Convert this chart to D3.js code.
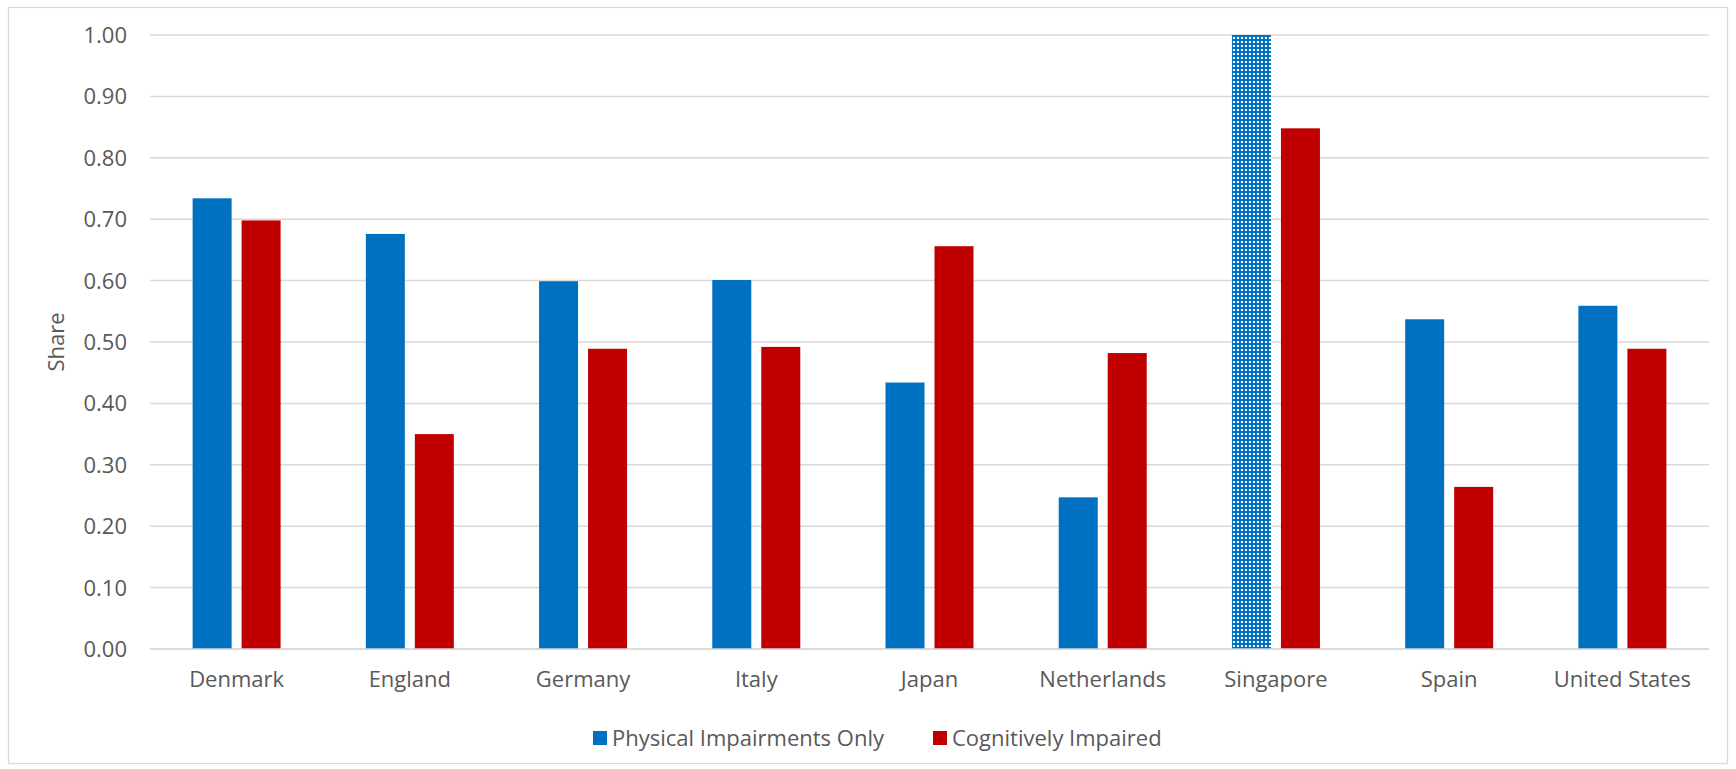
<!DOCTYPE html>
<html>
<head>
<meta charset="utf-8">
<script src="https://cdn.jsdelivr.net/npm/d3@7"></script>
<style>
  html, body { margin: 0; padding: 0; background: #ffffff; }
  svg { display: block; font-family: "Open Sans", "Liberation Sans", sans-serif; }
</style>
</head>
<body>
<svg id="chart" width="1736" height="769"></svg>
<script>
// Share of people with care needs, by country and impairment group
const countries = ["Denmark", "England", "Germany", "Italy", "Japan", "Netherlands", "Singapore", "Spain", "United States"];
const physicalOnly = [0.734, 0.676, 0.599, 0.601, 0.434, 0.247, 1.00, 0.537, 0.559];
const cognitive    = [0.698, 0.350, 0.489, 0.492, 0.656, 0.482, 0.848, 0.264, 0.489];
const seriesNames  = ["Physical Impairments Only", "Cognitively Impaired"];
const seriesColors = ["#0070C0", "#C00000"];
const yTicks = [0, 0.1, 0.2, 0.3, 0.4, 0.5, 0.6, 0.7, 0.8, 0.9, 1.0];
const patternedCountry = "Singapore";  // physical-only bar drawn with a dotted fill

const svg = d3.select("#chart");
const plot = { left: 150, right: 1709, top: 35, bottom: 649 };
const textColor = "#595959";
const gridColor = "#d9d9d9";
const fontSize = 22;

// Outer chart frame
svg.append("rect")
  .attr("x", 8.5).attr("y", 7.5)
  .attr("width", 1719).attr("height", 756)
  .attr("fill", "#ffffff")
  .attr("stroke", gridColor).attr("stroke-width", 1.3);

// Dotted fill pattern
const defs = svg.append("defs");
const pat = defs.append("pattern")
  .attr("id", "dots")
  .attr("patternUnits", "userSpaceOnUse")
  .attr("width", 4).attr("height", 4);
pat.append("rect").attr("width", 4).attr("height", 4).attr("fill", seriesColors[0]);
pat.append("rect").attr("x", 1).attr("y", 1).attr("width", 2).attr("height", 2).attr("fill", "#ffffff");

const y = d3.scaleLinear().domain([0, 1]).range([plot.bottom, plot.top]);
const x0 = d3.scaleBand().domain(countries).range([plot.left, plot.right])
  .paddingInner(0.492).paddingOuter(0.246);
const x1 = d3.scaleBand().domain(seriesNames).range([0, x0.bandwidth()]).paddingInner(0.204);

// Horizontal gridlines
svg.append("g")
  .selectAll("line")
  .data(yTicks)
  .join("line")
  .attr("x1", plot.left).attr("x2", plot.right)
  .attr("y1", d => y(d)).attr("y2", d => y(d))
  .attr("stroke", gridColor).attr("stroke-width", 1.5);

// Y-axis tick labels
svg.append("g")
  .selectAll("text")
  .data(yTicks)
  .join("text")
  .attr("x", 127)
  .attr("y", d => y(d))
  .attr("dy", "0.36em")
  .attr("text-anchor", "end")
  .attr("fill", textColor)
  .attr("font-size", fontSize)
  .text(d => d3.format(".2f")(d));

// Y-axis title
svg.append("text")
  .attr("transform", `translate(${64},${(plot.top + plot.bottom) / 2}) rotate(-90)`)
  .attr("text-anchor", "middle")
  .attr("fill", textColor)
  .attr("font-size", fontSize)
  .text("Share");

// Bars
const rows = countries.map((c, i) => ({ country: c, values: [physicalOnly[i], cognitive[i]] }));
const groups = svg.append("g")
  .selectAll("g")
  .data(rows)
  .join("g")
  .attr("transform", d => `translate(${x0(d.country)},0)`);

groups.selectAll("rect")
  .data(d => d.values.map((v, j) => ({ country: d.country, series: seriesNames[j], value: v, j })))
  .join("rect")
  .attr("x", d => x1(d.series))
  .attr("y", d => y(d.value))
  .attr("width", x1.bandwidth())
  .attr("height", d => y(0) - y(d.value))
  .attr("fill", d => (d.country === patternedCountry && d.j === 0) ? "url(#dots)" : seriesColors[d.j]);

// Baseline over the bar feet
svg.append("line")
  .attr("x1", plot.left).attr("x2", plot.right)
  .attr("y1", y(0)).attr("y2", y(0))
  .attr("stroke", gridColor).attr("stroke-width", 1.5);

// Category labels
svg.append("g")
  .selectAll("text")
  .data(countries)
  .join("text")
  .attr("x", d => x0(d) + x0.bandwidth() / 2)
  .attr("y", 687)
  .attr("text-anchor", "middle")
  .attr("fill", textColor)
  .attr("font-size", fontSize)
  .text(d => d);

// Legend
const legendItems = [
  { name: seriesNames[0], color: seriesColors[0], x: 593 },
  { name: seriesNames[1], color: seriesColors[1], x: 933 }
];
const lg = svg.append("g")
  .selectAll("g")
  .data(legendItems)
  .join("g")
  .attr("transform", d => `translate(${d.x},731)`);
lg.append("rect").attr("width", 14).attr("height", 14).attr("fill", d => d.color);
lg.append("text")
  .attr("x", 19).attr("y", 7).attr("dy", "0.36em")
  .attr("fill", textColor)
  .attr("font-size", fontSize)
  .text(d => d.name);
</script>
</body>
</html>
